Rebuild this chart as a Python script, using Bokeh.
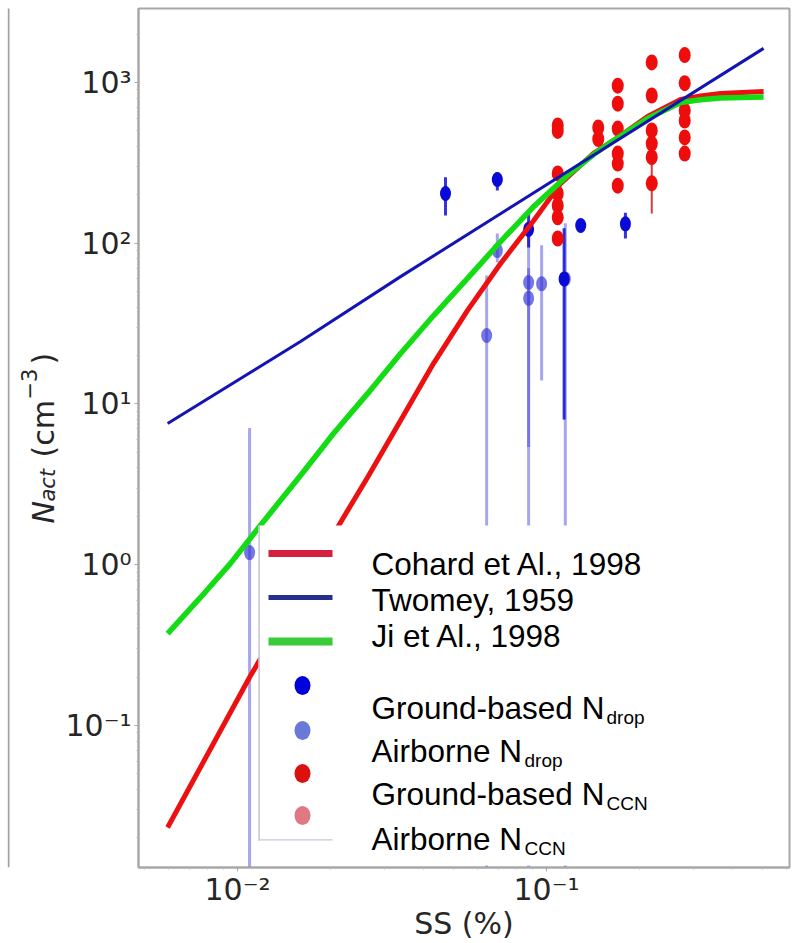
import math
from bokeh.plotting import figure
from bokeh.layouts import row
from bokeh.models import (ColumnDataSource, Range1d, FixedTicker, CustomJSTickFormatter,
                          Label, BoxAnnotation)
from bokeh.embed import file_html
from bokeh.resources import INLINE

# ---------------- data ----------------
twomey_ss = [0.00594, 0.01599, 0.0337, 0.1, 0.504]
twomey_n = [7.56, 24.5, 62.0, 231.0, 1630.0]

cohard_ss = [0.00594, 0.01093, 0.02123, 0.02634, 0.0337, 0.0431, 0.0555, 0.0710,
             0.0908, 0.1110, 0.1419, 0.1648, 0.2123, 0.2715, 0.3149, 0.3657, 0.504]
cohard_n = [0.0232, 0.199, 1.75, 3.49, 7.9, 17.9, 38.2, 74.8,
            138.0, 235.0, 362.0, 436.0, 614.0, 784.0, 824.0, 854.0, 879.0]

ji_ss = [0.00594, 0.00759, 0.00949, 0.01214, 0.01599, 0.02045, 0.02634, 0.0337, 0.0431,
         0.0555, 0.0710, 0.0908, 0.1169, 0.1419, 0.1648, 0.2123, 0.2715, 0.3149, 0.3657, 0.504]
ji_n = [0.373, 0.626, 1.02, 1.86, 3.59, 6.55, 11.6, 20.6, 35.5,
        60.4, 102.5, 169.0, 264.0, 356.0, 436.0, 597.0, 751.0, 780.0, 801.0, 812.0]

gnd_drop_ss = [0.0471, 0.0693, 0.0875, 0.114, 0.129, 0.180]
gnd_drop_n = [204.0, 249.0, 122.0, 60.0, 129.0, 132.0]
gnd_drop_lo = [149.0, 213.0, 94.0, 8.0, 129.0, 107.0]
gnd_drop_hi = [257.0, 276.0, 160.0, 124.0, 129.0, 155.0]

air_drop_ss = [0.01094, 0.0640, 0.0693, 0.0875, 0.0875, 0.0964, 0.115]
air_drop_n = [1.19, 26.7, 90.0, 57.0, 45.4, 56.0, 60.0]
air_drop_lo = [0.001, 0.001, 76.0, 5.4, 0.001, 14.0, 0.001]
air_drop_hi = [7.1, 63.0, 115.0, 120.0, 70.0, 97.0, 133.0]

gnd_ccn_ss = [0.1087, 0.1087, 0.1087, 0.1087, 0.1087, 0.1087, 0.1087,
              0.147, 0.147,
              0.170, 0.170, 0.170, 0.170, 0.170, 0.170,
              0.219, 0.219, 0.219, 0.219, 0.219, 0.219,
              0.280, 0.280, 0.280, 0.280, 0.280, 0.280]
gnd_ccn_n = [540.0, 500.0, 272.0, 204.0, 172.0, 145.0, 107.0,
             525.0, 445.0,
             955.0, 738.0, 517.0, 361.0, 313.0, 228.0,
             1333.0, 830.0, 503.0, 417.0, 343.0, 236.0,
             1480.0, 990.0, 670.0, 580.0, 455.0, 361.0]
gnd_ccn_lo = [540.0, 500.0, 272.0, 204.0, 172.0, 145.0, 107.0,
              525.0, 445.0,
              955.0, 738.0, 517.0, 361.0, 313.0, 228.0,
              1333.0, 830.0, 503.0, 417.0, 343.0, 153.0,
              1480.0, 990.0, 670.0, 580.0, 455.0, 361.0]
gnd_ccn_hi = [540.0, 500.0, 272.0, 204.0, 172.0, 145.0, 107.0,
              525.0, 445.0,
              955.0, 738.0, 517.0, 361.0, 313.0, 228.0,
              1333.0, 830.0, 503.0, 417.0, 343.0, 417.0,
              1480.0, 990.0, 670.0, 580.0, 455.0, 361.0]

air_ccn_ss = []
air_ccn_n = []

legend_texts = ["Cohard et Al., 1998", "Twomey, 1959", "Ji et Al., 1998",
                "Ground-based N", "Airborne N", "Ground-based N", "Airborne N"]
legend_subs = ["drop", "drop", "CCN", "CCN"]

x_major = [0.01, 0.1]
y_major = [0.1, 1.0, 10.0, 100.0, 1000.0]
X_LIM = (0.004781, 0.6113)
Y_LIM = (0.01308, 2886.0)

# ---------------- layout constants ----------------
LAB_W = 60                     # width of the narrow figure holding the y-axis title
FRAME_L, FRAME_T = 138, 8      # frame position on the page
FRAME_W, FRAME_H = 651, 859
FRAME_B = FRAME_T + FRAME_H    # page y of the frame bottom (867)
PAGE_H = 943

# ---------------- main figure ----------------
p = figure(frame_width=FRAME_W, frame_height=FRAME_H, x_axis_type="log", y_axis_type="log",
           x_range=Range1d(*X_LIM), y_range=Range1d(*Y_LIM),
           output_backend="svg", toolbar_location=None,
           min_border_left=FRAME_L - LAB_W, min_border_right=3,
           min_border_top=FRAME_T, min_border_bottom=PAGE_H - FRAME_B)
p.xgrid.visible = False
p.ygrid.visible = False
p.outline_line_color = "#a8a8a8"
p.outline_line_width = 2
p.border_fill_color = "white"


def px2x(px):
    lo, hi = math.log10(X_LIM[0]), math.log10(X_LIM[1])
    return 10 ** (lo + (px - FRAME_L) / FRAME_W * (hi - lo))


def py2y(py):
    lo, hi = math.log10(Y_LIM[0]), math.log10(Y_LIM[1])
    return 10 ** (hi - (py - FRAME_T) / FRAME_H * (hi - lo))


sup_code = """
const e = Math.round(Math.log10(tick));
const sup = {"-":"\u207b","0":"\u2070","1":"\u00b9","2":"\u00b2","3":"\u00b3","4":"\u2074",
             "5":"\u2075","6":"\u2076","7":"\u2077","8":"\u2078","9":"\u2079"};
return "10" + String(e).split("").map(c => sup[c]).join("");
"""

x_minor = [m * 10.0 ** d for d in (-3, -2, -1) for m in range(2, 10)]
y_minor = [m * 10.0 ** d for d in (-2, -1, 0, 1, 2, 3) for m in range(2, 10)]
p.xaxis.ticker = FixedTicker(ticks=x_major, minor_ticks=x_minor)
p.yaxis.ticker = FixedTicker(ticks=y_major, minor_ticks=y_minor)
for ax in (p.xaxis[0], p.yaxis[0]):
    ax.formatter = CustomJSTickFormatter(code=sup_code)
    ax.major_label_text_font = "DejaVu Sans"
    ax.major_label_text_font_size = "30px"
    ax.major_label_text_color = "#262626"
    ax.axis_line_color = "#a8a8a8"
    ax.axis_line_width = 2
    ax.major_tick_line_color = "#a8a8a8"
    ax.minor_tick_line_color = "#b8b8b8"
    ax.major_tick_out = 4
    ax.major_tick_in = 0
    ax.minor_tick_out = 2
    ax.minor_tick_in = 0
    ax.major_label_standoff = 3
p.xaxis.major_label_standoff = 0

p.xaxis.axis_label = "SS (%)"
p.xaxis.axis_label_text_font = "DejaVu Sans"
p.xaxis.axis_label_text_font_style = "normal"
p.xaxis.axis_label_text_font_size = "30px"
p.xaxis.axis_label_text_color = "#262626"
p.xaxis.axis_label_standoff = -4
p.yaxis.axis_label = None

# ---------------- data marks ----------------
air_drop_src = ColumnDataSource(dict(ss=air_drop_ss, n=air_drop_n, lo=air_drop_lo, hi=air_drop_hi))
gnd_drop_src = ColumnDataSource(dict(ss=gnd_drop_ss, n=gnd_drop_n, lo=gnd_drop_lo, hi=gnd_drop_hi))
gnd_ccn_src = ColumnDataSource(dict(ss=gnd_ccn_ss, n=gnd_ccn_n, lo=gnd_ccn_lo, hi=gnd_ccn_hi))
air_ccn_src = ColumnDataSource(dict(ss=air_ccn_ss, n=air_ccn_n))

p.segment(x0="ss", y0="lo", x1="ss", y1="hi", source=air_drop_src,
          line_color="#3a3ad8", line_alpha=0.45, line_width=3)
p.ellipse(x="ss", y="n", width=11, height=15, width_units="screen", height_units="screen",
          source=air_drop_src, fill_color="#3a3ad8", fill_alpha=0.7, line_color=None)
p.segment(x0="ss", y0="lo", x1="ss", y1="hi", source=gnd_drop_src,
          line_color="#1010d0", line_alpha=0.85, line_width=3)
p.ellipse(x="ss", y="n", width=11, height=15, width_units="screen", height_units="screen",
          source=gnd_drop_src, fill_color="#0a0ad8", line_color=None)
p.segment(x0="ss", y0="lo", x1="ss", y1="hi", source=gnd_ccn_src,
          line_color="#c01010", line_alpha=0.8, line_width=2)
p.ellipse(x="ss", y="n", width=12, height=16, width_units="screen", height_units="screen",
          source=gnd_ccn_src, fill_color="#ee0c0c", line_color=None)
p.ellipse(x="ss", y="n", width=12, height=16, width_units="screen", height_units="screen",
          source=air_ccn_src, fill_color="#ee0c0c", fill_alpha=0.5, line_color=None)

p.line(cohard_ss, cohard_n, line_color="#ec1010", line_width=5)
p.line(ji_ss, ji_n, line_color="#14dc14", line_width=5.5)
p.line(twomey_ss, twomey_n, line_color="#1414b4", line_width=3)

# ---------------- legend (drawn by hand: labels carry subscripts) ----------------
def sbox(left, right, top, bottom, color):
    return BoxAnnotation(left=left, right=right, top=top, bottom=bottom,
                         left_units="screen", right_units="screen",
                         top_units="screen", bottom_units="screen",
                         fill_color=color, fill_alpha=1.0, line_color=None)


p.add_layout(sbox(120, 649, 342, 2, "white"))
p.add_layout(sbox(120, 121.2, 342, 27, "#b4b4cc"))
p.add_layout(sbox(120, 194, 28.2, 27, "#c8c8d8"))

handle_rows = [553, 597, 641, 685, 730, 773, 815]       # page y of each legend row
line_styles = [("#d4203c", 7), ("#24308c", 5), ("#38cc38", 8)]
for (col, w), ry in zip(line_styles, handle_rows[:3]):
    p.line(x=[px2x(268), px2x(332)], y=[py2y(ry), py2y(ry)], line_color=col,
           line_width=w, level="overlay")
marker_styles = [("#0000dd", 1.0), ("#5060d4", 0.85), ("#dd1010", 1.0), ("#dc6070", 0.85)]
for (col, a), ry in zip(marker_styles, handle_rows[3:]):
    p.ellipse(x=[px2x(302)], y=[py2y(ry)], width=16, height=19, width_units="screen",
              height_units="screen", fill_color=col, fill_alpha=a, line_color=None,
              level="overlay")

text_y = [304, 268, 232, 160, 117, 74, 29]
for t, y in zip(legend_texts, text_y):
    p.add_layout(Label(x=233, y=y, x_units="screen", y_units="screen", text=t,
                       text_font="Liberation Sans", text_font_size="31.5px",
                       text_color="black", text_baseline="alphabetic", text_align="left"))
sub_x = [468, 386, 468, 386]
sub_y = [150, 107, 64, 19]
for t, x, y in zip(legend_subs, sub_x, sub_y):
    p.add_layout(Label(x=x, y=y, x_units="screen", y_units="screen", text=t,
                       text_font="Liberation Sans", text_font_size="19px",
                       text_color="black", text_baseline="alphabetic", text_align="left"))

# ---------------- narrow figure with the y-axis title N_act (cm^-3) ----------------
# same top/bottom borders as the main figure so both frames span page y 8..867
lab = figure(width=LAB_W, height=PAGE_H, x_range=Range1d(0, LAB_W), y_range=Range1d(0, FRAME_H),
             output_backend="svg", toolbar_location=None,
             x_axis_location=None, y_axis_location=None,
             min_border_left=0, min_border_right=0,
             min_border_top=FRAME_T, min_border_bottom=PAGE_H - FRAME_B)
lab.outline_line_color = None
lab.xgrid.visible = False
lab.ygrid.visible = False
lab.add_layout(BoxAnnotation(left=7.3, right=9, top=FRAME_H + 10, bottom=0,
                             left_units="screen", right_units="screen",
                             top_units="screen", bottom_units="screen",
                             fill_color="#a0a0a0", fill_alpha=1.0, line_color=None))
ylab = [("N", 43, 523, "30px", "italic"),
        ("act", 47, 501, "21px", "italic"),
        ("(cm", 43, 457, "30px", "normal"),
        ("\u22123", 28, 399, "21px", "normal"),
        (")", 43, 364, "30px", "normal")]
for t, x, y, fs, st in ylab:
    lab.add_layout(Label(x=x, y=FRAME_B - y, x_units="screen", y_units="screen", text=t,
                         angle=math.pi / 2, text_font="DejaVu Sans", text_font_size=fs,
                         text_font_style=st, text_color="#262626",
                         text_baseline="alphabetic", text_align="left"))

layout = row(lab, p, spacing=0)
open("out.html", "w").write(file_html(layout, INLINE))
